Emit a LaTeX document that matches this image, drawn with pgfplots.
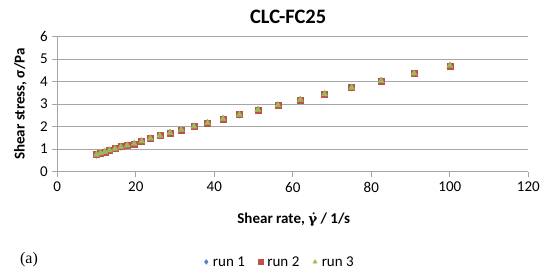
\documentclass[border=0pt]{standalone}
\usepackage{pgfplots}
\pgfplotsset{compat=1.18}
\usepackage{pgfplotstable}
\usepackage{fontspec}
\setmainfont{Carlito}
\newfontfamily\seriffont{Liberation Serif}
\newfontfamily\gammafont{DejaVu Serif}
\definecolor{xblue}{HTML}{4F81BD}
\definecolor{xred}{HTML}{C0504D}
\definecolor{xgreen}{HTML}{9BBB59}
\definecolor{gridgray}{HTML}{A6A6A6}
\pgfplotstableread{
x y1 y2 y3
10.0 0.75 0.76 0.76
11.0 0.81 0.82 0.82
12.1 0.87 0.88 0.88
13.3 0.94 0.95 0.95
14.7 1.02 1.02 1.02
16.2 1.10 1.11 1.10
17.8 1.17 1.17 1.17
19.6 1.24 1.24 1.24
21.5 1.35 1.36 1.35
23.7 1.47 1.48 1.48
26.1 1.60 1.60 1.60
28.7 1.72 1.72 1.72
31.6 1.86 1.86 1.86
34.8 2.01 2.01 2.01
38.3 2.16 2.16 2.16
42.2 2.34 2.34 2.34
46.4 2.53 2.53 2.53
51.1 2.74 2.74 2.74
56.2 2.95 2.95 2.95
61.9 3.19 3.19 3.19
68.1 3.44 3.44 3.44
75.0 3.73 3.73 3.73
82.5 4.03 4.03 4.03
90.9 4.36 4.36 4.36
100.0 4.70 4.70 4.70
}\runs
\begin{document}
\begin{tikzpicture}[x=1pt,y=1pt]
\path[use as bounding box] (0,0) rectangle (544,270);
\begin{axis}[
  at={(57.3pt,98.3pt)}, anchor=south west,
  scale only axis, width=471pt, height=135.3pt,
  xmin=0, xmax=120, ymin=0, ymax=6,
  xtick={0,20,...,120}, ytick={0,1,...,6},
  axis x line=bottom, axis y line=left,
  axis line style={-, draw=gridgray, line width=0.8pt},
  ymajorgrids, grid style={draw=gridgray, line width=0.8pt},
  tick align=outside, major tick length=5pt,
  tick style={draw=gridgray, line width=0.8pt},
  /pgf/number format/assume math mode=true,
  tick label style={font=\fontsize{15}{17}\selectfont},
  xticklabel style={yshift=-2pt},
  yticklabel style={xshift=-1pt},
  title={\bfseries CLC-FC25},
  title style={at={(axis description cs:0.49,1.10)}, anchor=center, font=\fontsize{20.5}{23}\selectfont},
  xlabel={\bfseries Shear rate, {\gammafont\fontsize{13.5}{15}\selectfont γ̇} / 1/s},
  xlabel style={at={(axis description cs:0.502,-0.354)}, anchor=center, font=\fontsize{15}{17}\selectfont},
  ylabel={\bfseries Shear stress, σ/Pa},
  ylabel style={at={(axis description cs:-0.0786,0.5)}, anchor=center, font=\fontsize{15}{17}\selectfont},
  legend columns=3,
  legend style={at={(axis description cs:0.47,-0.667)}, anchor=center, draw=none, fill=none,
    font=\fontsize{15}{17}\selectfont, /tikz/every even column/.append style={column sep=9pt}},
  legend image code/.code={\path (0pt,0pt) (9pt,0pt); \draw[#1, mark size=2.4pt] plot coordinates {(4.5pt,0pt)};},
  legend cell align=left,
]
\addplot[only marks, mark=diamond*, mark size=3.5pt, color=xblue] table[x=x,y=y1]{\runs};
\addlegendentry{run 1}
\addplot[only marks, mark=square*, mark size=3pt, color=xred] table[x=x,y=y2]{\runs};
\addlegendentry{run 2}
\addplot[only marks, mark=triangle*, mark size=3.5pt, color=xgreen] table[x=x,y=y3]{\runs};
\addlegendentry{run 3}
\end{axis}
\node[font=\seriffont\fontsize{16}{18}\selectfont] at (29,10) {(a)};
\end{tikzpicture}
\end{document}
